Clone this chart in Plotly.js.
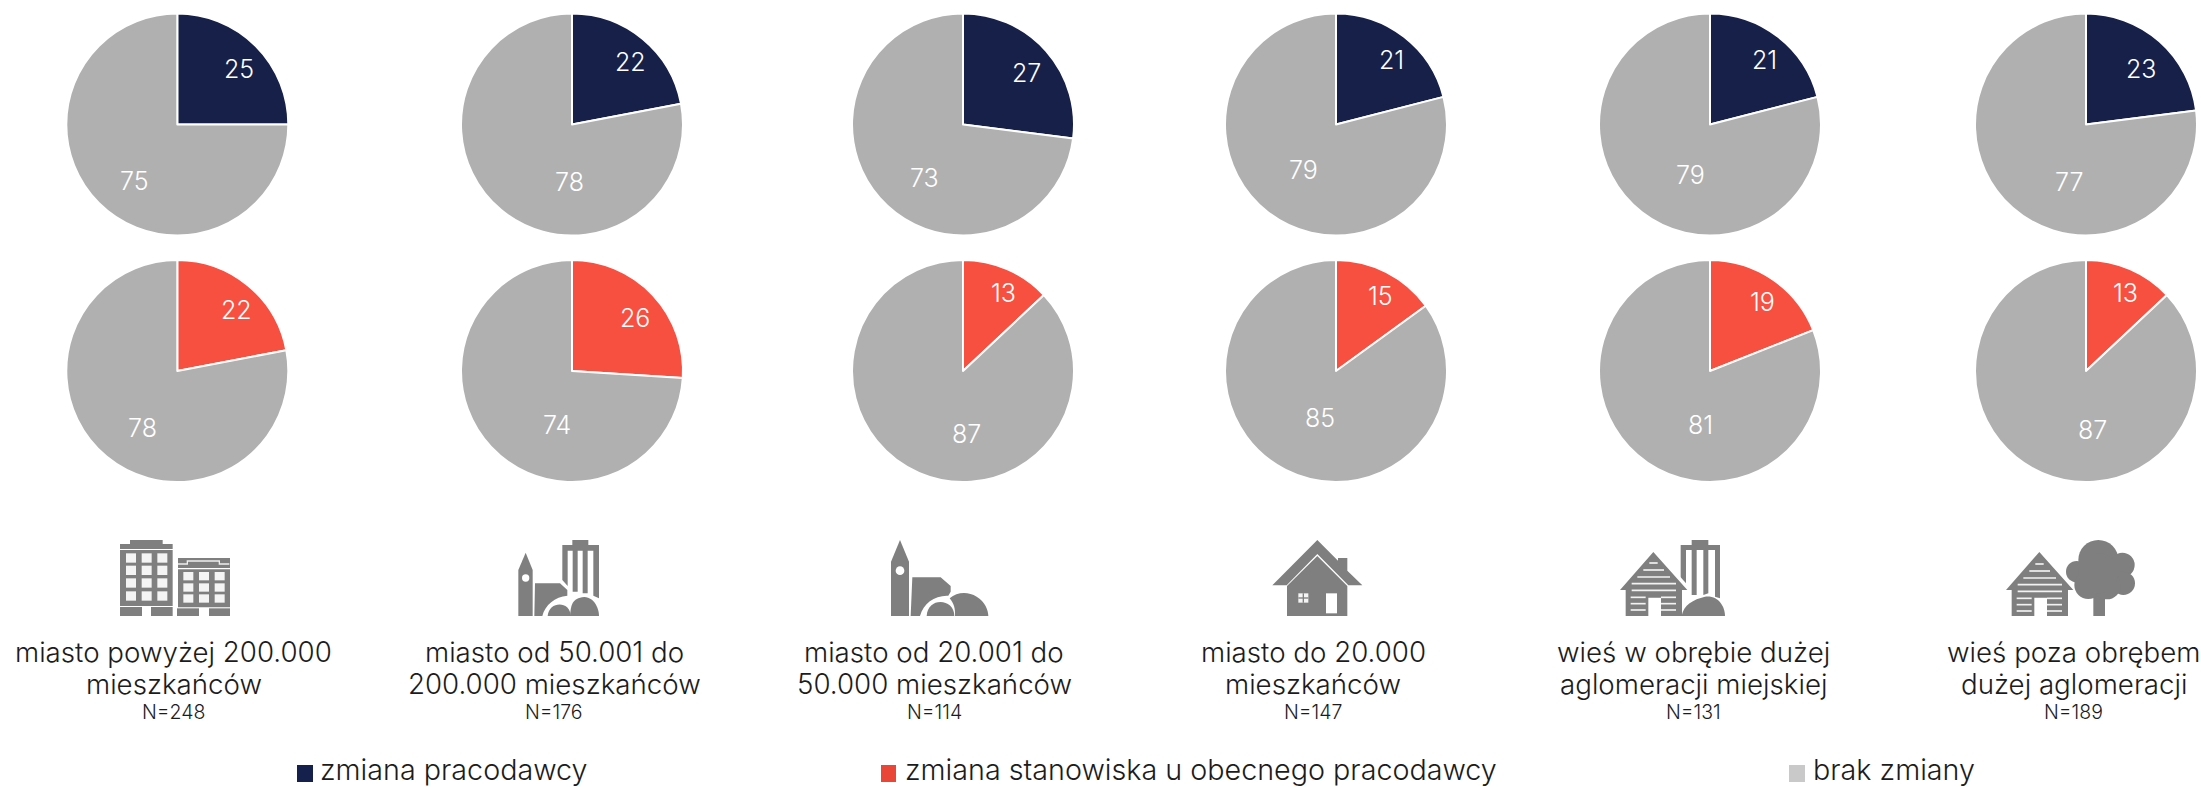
<!DOCTYPE html>
<html><head><meta charset="utf-8">
<script src="https://cdn.plot.ly/plotly-3.0.1.min.js"></script>
<style>html,body{margin:0;padding:0;background:#fff;overflow:hidden}</style>
</head><body><div id="chart" style="width:2201px;height:787px"></div>
<script>
// ---- data
const categories = ["miasto powyżej 200.000<br>mieszkańców","miasto od 50.001 do<br>200.000 mieszkańców","miasto od 20.001 do<br>50.000 mieszkańców","miasto do 20.000<br>mieszkańców","wieś w obrębie dużej<br>aglomeracji miejskiej","wieś poza obrębem<br>dużej aglomeracji"];
const sampleSizes = [248,176,114,147,131,189];
const employerChange = [25,22,27,21,21,23];
const employerNoChange = [75,78,73,79,79,77];
const positionChange = [22,26,13,15,19,13];
const positionNoChange = [78,74,87,85,81,87];
const seriesNames = ["zmiana pracodawcy","zmiana stanowiska u obecnego pracodawcy","brak zmiany"];

// ---- layout and style (pixels on the 2201x787 page)
const W=2201,H=787,R=111;
const pieX=[177.3,572,963,1336,1710,2086], pieY=[124.5,371];
const captionX=[173.5,554,934,1313,1693.5,2073.5];
const labelTopPos=[[239,69,134,181],[630,62,569,182],[1026,73,924,178],[1391,60,1303,170],[1764,60,1690,175],[2141,69,2069,182]];
const labelBotPos=[[236,310,142,428],[635,318,557,425],[1003,293,966,434],[1380,296,1320,418],[1762,302,1700,425],[2125,293,2092,430]];
const navy="#162049",red="#f85040",gray="#b0b0b0",icon="#7f7f7f",ink="#1c1c1c";
const FONT="Inter, Lato, sans-serif";

const traces=[{type:"scatter",x:[],y:[],xaxis:"x",yaxis:"y",showlegend:false,hoverinfo:"skip"}];
function pie(vals,col,cx,cy,names){
  traces.push({type:"pie",values:vals,labels:names,sort:false,direction:"clockwise",rotation:0,
    textinfo:"none",showlegend:false,hoverinfo:"label+value",
    marker:{colors:[col,gray],line:{color:"#fff",width:2}},
    domain:{x:[(cx-R)/W,(cx+R)/W],y:[1-(cy+R)/H,1-(cy-R)/H]}});
}
const annotations=[];
function txt(t,x,y,size,color,anchor){
  annotations.push({text:String(t),x:x,y:y,xref:"x",yref:"y",showarrow:false,xanchor:anchor||"center",yanchor:"middle",
    font:{family:FONT,size:size,color:color,weight:300},bgcolor:"rgba(0,0,0,0)",borderpad:0});
}
categories.forEach((c,i)=>{
  pie([employerChange[i],employerNoChange[i]],navy,pieX[i],pieY[0],[seriesNames[0],seriesNames[2]]);
  pie([positionChange[i],positionNoChange[i]],red,pieX[i],pieY[1],[seriesNames[1],seriesNames[2]]);
  const a=labelTopPos[i],b=labelBotPos[i];
  txt(employerChange[i],a[0],a[1],25,"#fff"); txt(employerNoChange[i],a[2],a[3],25,"#fff");
  txt(positionChange[i],b[0],b[1],25,"#fff"); txt(positionNoChange[i],b[2],b[3],25,"#fff");
  const parts=c.split("<br>");
  txt(parts[0],captionX[i],652,27.7,ink); txt(parts[1],captionX[i],684,27.7,ink);
  txt("N="+sampleSizes[i],captionX[i],712,19.5,ink);
});
// legend
const shapes=[];
function rectPx(x0,y0,x1,y1,col){shapes.push({type:"rect",xref:"x",yref:"y",x0,y0,x1,y1,fillcolor:col,line:{width:0},layer:"above"});}
rectPx(297,765,313,782,"#16204c"); txt(seriesNames[0],319,769,28.7,ink,"left");
rectPx(881,765,896,782,"#ea4637"); txt(seriesNames[1],903.5,769,28.7,ink,"left");
rectPx(1789,765,1805,782,"#c9c9c9"); txt(seriesNames[2],1811.5,769,28.7,ink,"left");

// ---- icons: coordinates are given at 3x relative to each icon's origin
function iconDraw(ox,oy){
  const X=v=>ox+v/3,Y=v=>oy+v/3;
  const tr=d=>{let n=0;return d.replace(/-?\d+(\.\d+)?/g,m=>{const v=(n++%2===0)?X(+m):Y(+m);return v.toFixed(2);});};
  return {
    p:(d,col,lw,lc)=>shapes.push({type:"path",xref:"x",yref:"y",path:tr(d),fillcolor:col||icon,line:{width:lw||0,color:lc||"#fff"},layer:"above"}),
    l:(d,w,col)=>shapes.push({type:"path",xref:"x",yref:"y",path:tr(d),line:{width:w,color:col||"#fff"},layer:"above"}),
    r:(a,b,c,d,col)=>rectPx(X(a),Y(b),X(c),Y(d),col||icon),
    c:(cx,cy,r,col)=>shapes.push({type:"circle",xref:"x",yref:"y",x0:X(cx-r),x1:X(cx+r),y0:Y(cy-r),y1:Y(cy+r),fillcolor:col||icon,line:{width:0},layer:"above"})
  };
}
// icon 1: blocks of flats
(function(){const g=iconDraw(110,530);
  g.r(60,30,158,42);g.r(30,42,188,57);g.r(30,60,188,228);g.r(30,231,96,258);g.r(123,231,188,258);
  [48,95,142].forEach(x=>[70,107,145,184].forEach(y=>g.r(x,y,x+30,y+28,"#f4f4f4")));
  g.r(204,84,360,114);g.l("M204 102L232 102L232 93L328 93L328 102L358 102",1.3,"#f0f0f0");
  g.r(204,118,360,232);g.r(201,235,267,258);g.r(297,235,360,258);
  [220,267,314].forEach(x=>[126,160,193].forEach(y=>g.r(x,y,x+30,y+25,"#f4f4f4")));
})();
// icon 2: church and tower
(function(){const g=iconDraw(505,530);
  g.r(202,30,250,45);
  g.p("M172 45L282 45L282 205L265 197L265 62L248 62L248 190L233 190L233 62L218 62L218 185L203 185L203 62L188 62L188 168L172 150Z");
  g.p("M40 258L40 120L62 68L83 120L83 258Z");g.c(62,144,11,"#fff");
  g.p("M88 258L90 160L165 160L187 180L187 197C150 200 120 225 112 258Z");
  g.p("M195 258C198 225 200 205 238 201C270 203 282 238 282 258Z");
  g.p("M128 258C132 212 196 212 197 258Z");
})();
// icon 3: church
(function(){const g=iconDraw(880,530);
  g.p("M33 258L33 95L60 30L87 95L87 258Z");g.c(60,122,13,"#fff");
  g.p("M92 258L97 142L182 142L212 168L212 185L205 197C165 195 130 220 120 258Z");
  g.p("M140 258C142 200 223 203 223 258Z");
  g.p("M225 258C226 235 222 222 209 205C232 185 265 185 290 200C315 215 325 240 325 258Z");
})();
// icon 4: house
(function(){const g=iconDraw(1265,530);
  g.p("M22 166L157 30L219 92L219 84L247 84L247 122L292 166L250 166L157 72L65 166Z");
  g.p("M66 168L157 78L247 168L247 258L66 258Z");
  g.r(100,190,130,218,"#f4f4f4");g.r(113,190,117,218);g.r(100,202,130,206);
  g.r(183,190,216,250,"#fff");
})();
function woodHouse(g,dx,ys){
  g.p(`M${30+dx} 180L${130+dx} 66L${232+dx} 180L${216+dx} 180L${216+dx} 258L${153+dx} 258L${153+dx} 203L${115+dx} 203L${115+dx} 258L${47+dx} 258L${47+dx} 180Z`);
  ys.forEach(s=>g.r(s[1]+dx,s[0]-2.5,s[2]+dx,s[0]+2.5,"#f2f2f2"));
}
const logStripes=[[99,118,143],[120,100,162],[141,82,180],[161,65,198],[181,65,198],[202,62,107],[202,153,198],[221,62,107],[221,153,198],[240,62,107],[240,153,198]];
// icon 5: village with tower
(function(){const g=iconDraw(1610,530);
  g.r(245,30,295,45);
  g.p("M212 45L330 45L330 205L315 200L315 60L295 60L295 190L280 195L280 60L260 60L260 195L245 195L245 60L228 60L228 195L212 175Z");
  g.l("M130 62L238 182",5,"#fff");g.r(212,178,240,260,"#fff");
  woodHouse(g,0,logStripes);
  g.p("M215 258C220 225 250 208 285 200C325 195 345 230 345 258Z");
})();
// icon 6: village with tree
(function(){const g=iconDraw(1995,530);
  woodHouse(g,3,logStripes.map(s=>[s[0]+3,s[1],s[2]]));
  g.r(295,190,330,258);
  [[310,90,60],[382,105,37],[245,125,32],[385,160,35],[280,165,42],[335,165,43],[310,130,60]].forEach(c=>g.c(c[0],c[1],c[2]));
})();

const layout={width:W,height:H,margin:{l:0,r:0,t:0,b:0,pad:0},paper_bgcolor:"#fff",plot_bgcolor:"#fff",showlegend:false,
  xaxis:{range:[0,W],visible:false,fixedrange:true,domain:[0,1]},
  yaxis:{range:[H,0],visible:false,fixedrange:true,domain:[0,1]},
  annotations,shapes};
Plotly.newPlot("chart",traces,layout,{displayModeBar:false,staticPlot:false});
</script></body></html>
